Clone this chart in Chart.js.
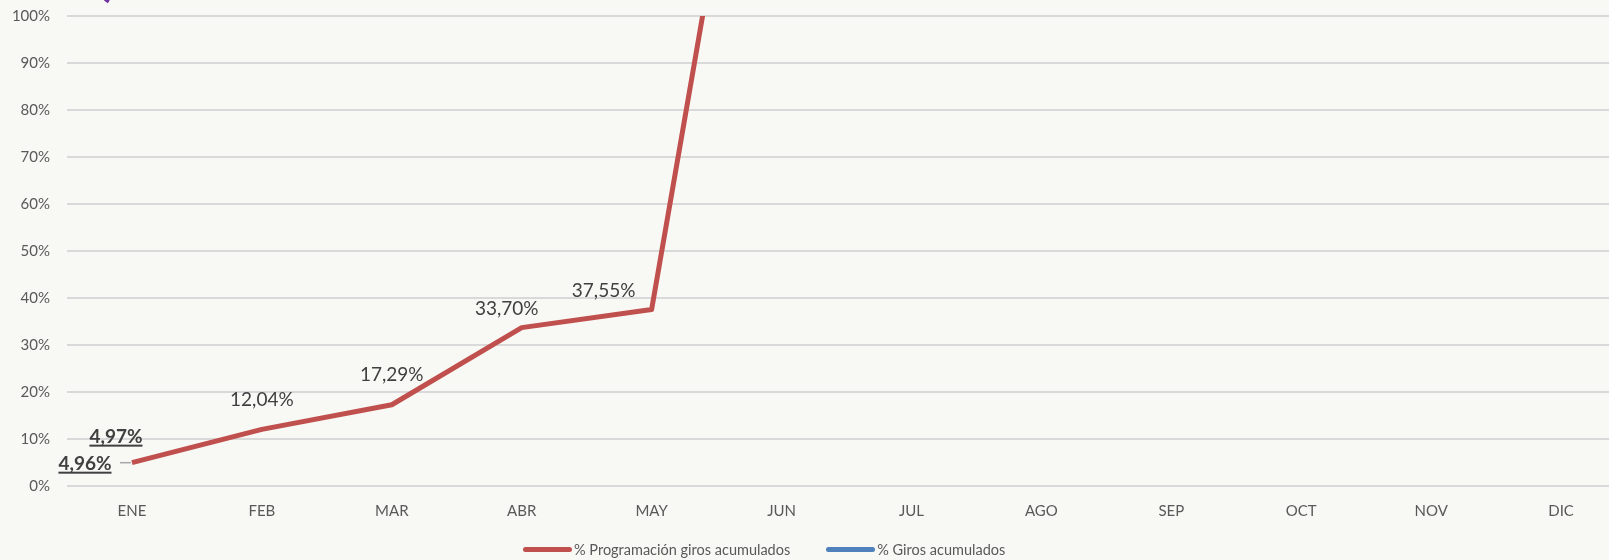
<!DOCTYPE html>
<html>
<head>
<meta charset="utf-8">
<script src="https://cdn.jsdelivr.net/npm/chart.js@4.4.1/dist/chart.umd.min.js"></script>
<style>
  html, body { margin: 0; padding: 0; background: #f8f8f4; overflow: hidden; }
  #wrap { position: relative; width: 1609px; height: 560px; overflow: hidden; }
  #giros { position: absolute; left: 0; top: 0; }
  #leyenda { position: absolute; top: 541px; left: 523px; display: flex; align-items: center;
             font-family: Lato, "Noto Sans", sans-serif; font-size: 14.5px; color: #595959; white-space: nowrap; }
  #leyenda span.sw { display: inline-block; width: 49px; height: 5px; border-radius: 3px; margin-right: 2px; }
  #leyenda .item { display: flex; align-items: center; margin-right: 36px; }
</style>
</head>
<body>
<div id="wrap">
  <canvas id="giros" width="1630" height="560"></canvas>
  <div id="leyenda"></div>
</div>
<script>
const meses = ["ENE","FEB","MAR","ABR","MAY","JUN","JUL","AGO","SEP","OCT","NOV","DIC"];
const programacion = [4.97, 12.04, 17.29, 33.70, 37.55, 196.8, null, null, null, null, null, null];
const giros = [4.96, null, null, null, null, null, null, null, null, null, null, null];
const yTicks = [0,10,20,30,40,50,60,70,80,90,100];

const fmt = v => v.toFixed(2).replace(".", ",") + "%";

// etiquetas de datos colocadas a mano como en la hoja original
const etiquetas = {
  id: "etiquetas",
  afterDatasetsDraw(chart) {
    const ctx = chart.ctx;
    const rojo = chart.getDatasetMeta(0).data;
    const azul = chart.getDatasetMeta(1).data;
    const offs = [[-16,-26],[0,-30],[0,-30],[-15,-19],[-48,-19]];
    ctx.save();
    ctx.textAlign = "center";
    ctx.textBaseline = "middle";
    for (let i = 0; i < 5; i++) {
      const p = rojo[i];
      const x = p.x + offs[i][0], y = p.y + offs[i][1];
      ctx.fillStyle = "#404040";
      if (i === 0) {
        ctx.font = "bold 19px Lato, sans-serif";
        ctx.fillText(fmt(programacion[i]), x, y);
        const w = ctx.measureText(fmt(programacion[i])).width;
        ctx.fillRect(x - w / 2, y + 8, w, 2);
      } else {
        ctx.font = "19px Lato, sans-serif";
        ctx.fillText(fmt(programacion[i]), x, y);
      }
    }
    // etiqueta de la serie azul con línea guía
    const b = azul[0];
    ctx.strokeStyle = "#a6a6a6";
    ctx.lineWidth = 1.5;
    ctx.beginPath();
    ctx.moveTo(b.x - 12, b.y);
    ctx.lineTo(b.x - 1, b.y);
    ctx.stroke();
    ctx.font = "bold 19px Lato, sans-serif";
    ctx.fillStyle = "#404040";
    const t = fmt(giros[0]);
    const w = ctx.measureText(t).width;
    ctx.fillText(t, b.x - 47, b.y + 1);
    ctx.fillRect(b.x - 47 - w / 2, b.y + 9, w, 2);
    // trazo morado recortado arriba a la izquierda
    ctx.strokeStyle = "#7030a0";
    ctx.lineWidth = 4;
    ctx.beginPath();
    ctx.arc(118, -14, 18, 2.1, 2.5);
    ctx.stroke();
    ctx.restore();
  }
};

const chart = new Chart(document.getElementById("giros"), {
  type: "line",
  data: {
    labels: meses,
    datasets: [
      { label: "% Programación giros acumulados", data: programacion, borderColor: "#c0504d",
        backgroundColor: "#c0504d", borderWidth: 5, pointRadius: 0, tension: 0,
        borderJoinStyle: "round", spanGaps: false },
      { label: "% Giros acumulados", data: giros, borderColor: "#4f81bd",
        backgroundColor: "#4f81bd", borderWidth: 5, pointRadius: 0, tension: 0 }
    ]
  },
  options: {
    responsive: false,
    animation: false,
    devicePixelRatio: 1,
    layout: { autoPadding: false, padding: { top: 16, right: 4, left: 0, bottom: 0 } },
    plugins: { legend: { display: false }, tooltip: { enabled: false } },
    scales: {
      x: {
        offset: true,
        grid: { display: false, drawTicks: false },
        border: { display: false },
        ticks: { color: "#595959", padding: 16, font: { family: "Lato", size: 15 }, maxRotation: 0 },
        afterFit(axis) { axis.height = 74; axis.paddingLeft = 0; axis.paddingRight = 0; }
      },
      y: {
        min: 0, max: 100,
        afterBuildTicks(axis) { axis.ticks = yTicks.map(v => ({ value: v })); },
        grid: { color: "#d9d9d9", lineWidth: 2, drawTicks: false },
        border: { display: false },
        ticks: { color: "#595959", padding: 17, font: { family: "Lato", size: 15 },
                 callback: v => v + "%" },
        afterFit(axis) { axis.width = 67; axis.paddingTop = 0; axis.paddingBottom = 0; }
      }
    }
  },
  plugins: [etiquetas]
});

const ley = document.getElementById("leyenda");
chart.data.datasets.forEach(ds => {
  const it = document.createElement("div");
  it.className = "item";
  const sw = document.createElement("span");
  sw.className = "sw";
  sw.style.background = ds.borderColor;
  it.appendChild(sw);
  it.appendChild(document.createTextNode(ds.label));
  ley.appendChild(it);
});
</script>
</body>
</html>
